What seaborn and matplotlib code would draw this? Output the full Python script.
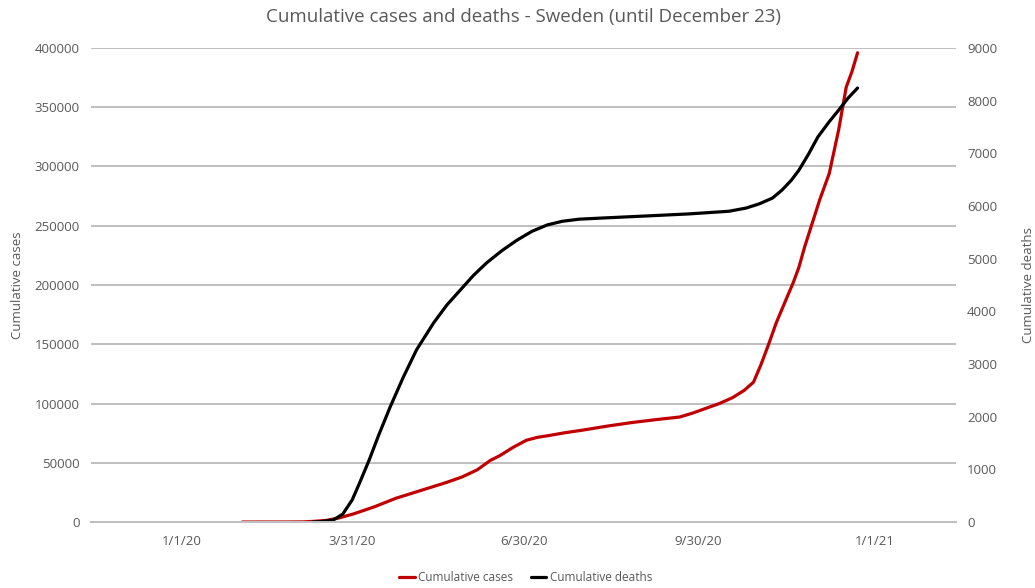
import pandas as pd
import matplotlib.pyplot as plt
import seaborn as sns

# values
case_dates = ['2020-02-02', '2020-02-25', '2020-03-05', '2020-03-10', '2020-03-17',
              '2020-03-24', '2020-04-01', '2020-04-12', '2020-04-23', '2020-05-02',
              '2020-05-11', '2020-05-20', '2020-05-28', '2020-06-05', '2020-06-12',
              '2020-06-17', '2020-06-24', '2020-07-01', '2020-07-07', '2020-07-13',
              '2020-07-22', '2020-07-31', '2020-08-13', '2020-08-26', '2020-09-08',
              '2020-09-20', '2020-09-27', '2020-10-04', '2020-10-11', '2020-10-18',
              '2020-10-24', '2020-10-29', '2020-11-02', '2020-11-06', '2020-11-10',
              '2020-11-15', '2020-11-19', '2020-11-22', '2020-11-25', '2020-11-29',
              '2020-12-03', '2020-12-08', '2020-12-13', '2020-12-17', '2020-12-20',
              '2020-12-23']
cases = [0, 10, 100, 500, 1300,
         3400, 7000, 13000, 20000, 24500,
         29000, 33500, 38000, 44000, 52000,
         56000, 63000, 69000, 71500, 73000,
         75500, 77600, 81000, 84000, 86500,
         88600, 92000, 96000, 100000, 105000,
         111000, 118000, 133000, 150000, 168000,
         187000, 202000, 215000, 232000, 252000,
         272000, 294000, 331000, 367000, 380000,
         396000]

death_dates = ['2020-03-10', '2020-03-15', '2020-03-21', '2020-03-26', '2020-03-31',
               '2020-04-04', '2020-04-09', '2020-04-14', '2020-04-20', '2020-04-27',
               '2020-05-04', '2020-05-13', '2020-05-20', '2020-05-27', '2020-06-03',
               '2020-06-10', '2020-06-18', '2020-06-26', '2020-07-04', '2020-07-12',
               '2020-07-20', '2020-07-29', '2020-08-15', '2020-09-02', '2020-09-25',
               '2020-10-16', '2020-10-25', '2020-11-01', '2020-11-08', '2020-11-13',
               '2020-11-18', '2020-11-22', '2020-11-27', '2020-12-02', '2020-12-08',
               '2020-12-13', '2020-12-18', '2020-12-23']
deaths = [0, 10, 40, 150, 420,
          750, 1180, 1650, 2180, 2750,
          3270, 3780, 4120, 4400, 4680,
          4920, 5150, 5350, 5520, 5640,
          5710, 5750, 5780, 5810, 5850,
          5900, 5960, 6040, 6150, 6300,
          6490, 6680, 6980, 7310, 7600,
          7820, 8050, 8240]

tick_dates = ['2020-01-01', '2020-03-31', '2020-06-30', '2020-09-30', '2021-01-01']
tick_labels = ['1/1/20', '3/31/20', '6/30/20', '9/30/20', '1/1/21']

df_cases = pd.DataFrame({'date': pd.to_datetime(case_dates), 'cases': cases})
df_deaths = pd.DataFrame({'date': pd.to_datetime(death_dates), 'deaths': deaths})

sns.set_theme(style="white")
plt.rcParams['font.family'] = ['Open Sans', 'DejaVu Sans']
txt = '#595959'
grid = '#bfbfbf'

fig = plt.figure(figsize=(10.35, 5.88), dpi=100)
ax = fig.add_axes([0.0879, 0.1122, 0.8358, 0.8062])
ax2 = ax.twinx()

sns.lineplot(data=df_cases, x='date', y='cases', ax=ax, color='#c00000', lw=2.3,
             label='Cumulative cases', legend=False)
sns.lineplot(data=df_deaths, x='date', y='deaths', ax=ax2, color='black', lw=2.3,
             label='Cumulative deaths', legend=False)

ax.set_ylim(0, 400000)
ax.set_yticks(range(0, 400001, 50000))
ax2.set_ylim(0, 9000)
ax2.set_yticks(range(0, 9001, 1000))
ax.yaxis.grid(True, color=grid, lw=1.4)
ax.set_axisbelow(True)

td = pd.to_datetime(tick_dates)
left = td[0] - pd.Timedelta(days=48)
right = td[-1] + pd.Timedelta(days=43)
ax.set_xlim(left, right)
ax.set_xticks(td)
ax.set_xticklabels(tick_labels)
mids = [left] + [td[i] + (td[i + 1] - td[i]) / 2 for i in range(len(td) - 1)] + [right]
ax.set_xticks(mids, minor=True)
ax.tick_params(axis='x', which='major', length=0, pad=9, labelsize=9.5, labelcolor=txt)
ax.tick_params(axis='x', which='minor', length=5, width=1.2, color=grid, direction='out')
ax.tick_params(axis='y', length=0, pad=8, labelsize=9.5, labelcolor=txt)
ax2.tick_params(axis='y', length=0, pad=8, labelsize=9.5, labelcolor=txt)

for a in (ax, ax2):
    for s in ['top', 'left', 'right']:
        a.spines[s].set_visible(False)
    a.spines['bottom'].set_color(grid)
    a.spines['bottom'].set_linewidth(1.4)

ax.set_xlabel('')
ax.set_ylabel('Cumulative cases', color=txt, fontsize=9.5, labelpad=8)
ax2.set_ylabel('Cumulative deaths', color=txt, fontsize=9.5, rotation=90, labelpad=18)
ax.set_title('Cumulative cases and deaths - Sweden (until December 23)',
             color=txt, fontsize=13.5, pad=19)

h1, l1 = ax.get_legend_handles_labels()
h2, l2 = ax2.get_legend_handles_labels()
fig.legend(h1 + h2, l1 + l2, loc='center', bbox_to_anchor=(0.508, 0.018), ncol=2,
           frameon=False, fontsize=8.5, handlelength=1.3, handletextpad=0.3,
           columnspacing=1.5, labelcolor=txt)

fig.savefig('out.png', dpi=100)
